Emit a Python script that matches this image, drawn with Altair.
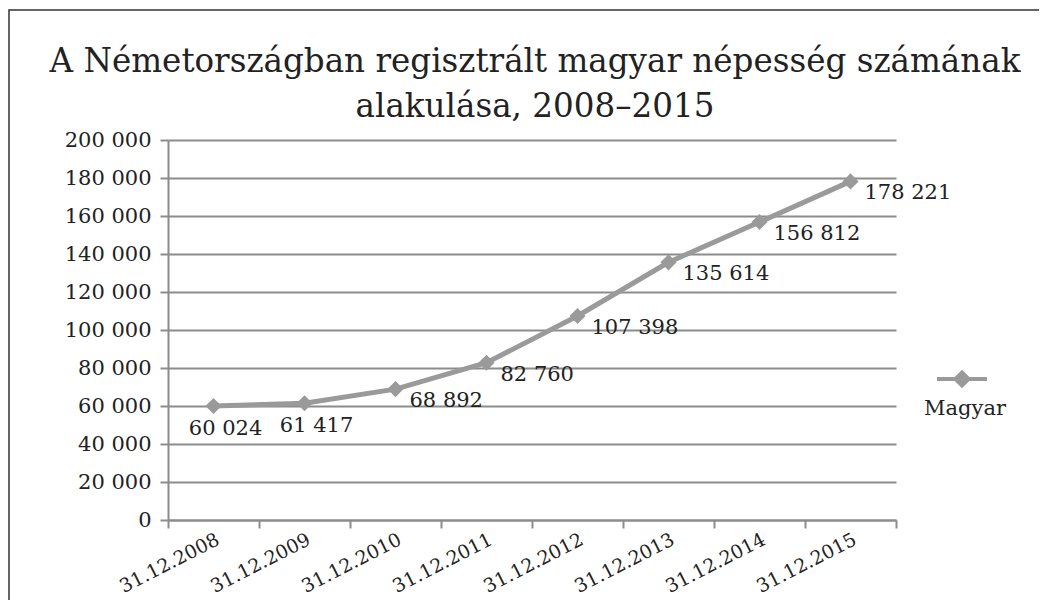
import altair as alt
import pandas as pd

# ---- data ----
dates = ["31.12.2008", "31.12.2009", "31.12.2010", "31.12.2011",
         "31.12.2012", "31.12.2013", "31.12.2014", "31.12.2015"]
values = [60024, 61417, 68892, 82760, 107398, 135614, 156812, 178221]
series = ["Magyar"] * len(dates)
title_lines = ["A Németországban regisztrált magyar népesség számának",
               "alakulása, 2008–2015"]
y_ticks = list(range(0, 200001, 20000))

df = pd.DataFrame({
    "date": dates,
    "value": values,
    "series": series,
    "idx": list(range(len(dates))),
})
df["label"] = [f"{v:,}".replace(",", " ") for v in values]

FONT = "DejaVu Serif"
GRAY = "#9a9a9a"
AXIS_GRAY = "#8c8c8c"
TEXT = "#222222"

x_enc = alt.X(
    "date:N", sort=dates,
    scale=alt.Scale(paddingInner=0, paddingOuter=0),
    axis=alt.Axis(
        title=None, labelAngle=-27, labelAlign="right", labelBaseline="top",
        labelFont=FONT, labelFontSize=19, labelColor=TEXT, labelPadding=2,
        tickBand="extent", tickSize=8, tickWidth=2, tickColor=AXIS_GRAY,
        domainColor=AXIS_GRAY, domainWidth=2, grid=False,
    ),
)
y_enc = alt.Y(
    "value:Q",
    scale=alt.Scale(domain=[0, 200000], nice=False),
    axis=alt.Axis(
        title=None, values=y_ticks,
        labelExpr="replace(format(datum.value, ','), regexp(',', 'g'), ' ')",
        labelFont=FONT, labelFontSize=21, labelColor=TEXT, labelPadding=9,
        tickSize=8, tickWidth=2, tickColor=AXIS_GRAY,
        domainColor=AXIS_GRAY, domainWidth=2,
        grid=True, gridColor=AXIS_GRAY, gridWidth=2,
    ),
)

base = alt.Chart(df)

border = alt.Chart(pd.DataFrame({"b": [0]})).mark_rect(
    fillOpacity=0, stroke="#333333", strokeWidth=1.5
).encode(
    x=alt.value(-159), x2=alt.value(1000), y=alt.value(-130), y2=alt.value(700)
)

line = base.mark_line(strokeWidth=5).encode(
    x=x_enc, y=y_enc,
    color=alt.Color(
        "series:N",
        scale=alt.Scale(domain=["Magyar"], range=[GRAY]),
        legend=alt.Legend(
            title="Magyar", titleOrient="bottom", titleAnchor="middle",
            titleFont=FONT, titleFontSize=21, titleFontWeight="normal",
            titleColor=TEXT, titlePadding=4,
            labelExpr="''", labelOffset=0,
            symbolType="M-1,0L1,0M0,-0.26L0.26,0L0,0.26L-0.26,0Z",
            symbolSize=2500, symbolStrokeWidth=4,
            symbolFillColor=GRAY, symbolStrokeColor=GRAY,
            orient="none", legendX=756, legendY=212,
        ),
    ),
)

points = base.mark_point(shape="diamond", filled=True, size=260, opacity=1,
                         color=GRAY).encode(x=x_enc, y=y_enc)

labels_below = base.transform_filter("datum.idx < 2").mark_text(
    align="center", baseline="middle", dx=12, dy=23,
    font=FONT, fontSize=21, color=TEXT,
).encode(x=x_enc, y=y_enc, text="label:N")

labels_right = base.transform_filter("datum.idx >= 2").mark_text(
    align="left", baseline="middle", dx=14, dy=12,
    font=FONT, fontSize=21, color=TEXT,
).encode(x=x_enc, y=y_enc, text="label:N")

chart = alt.layer(border, line, points, labels_below, labels_right).properties(
    width=728, height=380,
    autosize=alt.AutoSizeParams(type="none"),
    padding={"left": 160, "top": 132, "right": 143, "bottom": 80},
    background="white",
    title=alt.TitleParams(
        text=title_lines, font=FONT, fontSize=32.6, fontWeight="normal",
        color=TEXT, anchor="middle", frame="group", baseline="bottom",
        lineHeight=45, offset=-147, dx=3,
    ),
).configure_view(stroke=None)

chart.save("out.html", embed_options={"renderer": "svg", "actions": False})
